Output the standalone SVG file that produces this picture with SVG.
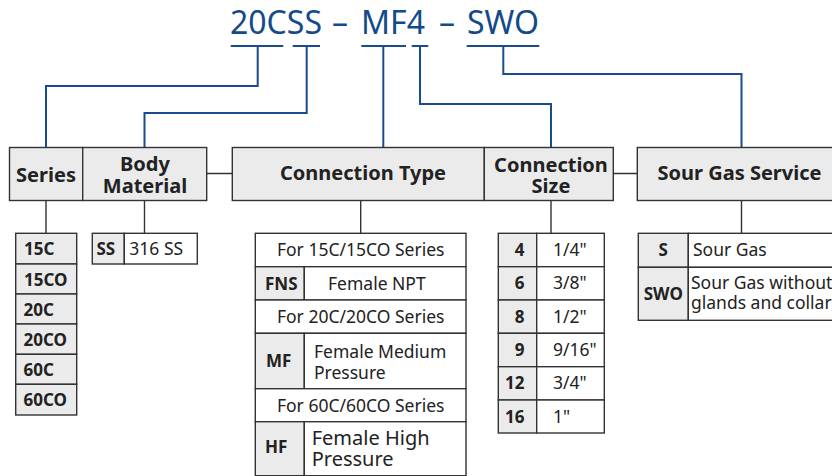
<svg xmlns="http://www.w3.org/2000/svg" width="832" height="476" viewBox="0 0 832 476">
<style>
.t{font-family:"Noto Sans","Open Sans","Liberation Sans",sans-serif;fill:#222}
.h{font-size:20px;font-weight:bold;text-anchor:middle}
.b{font-size:17px;font-weight:bold}
.r{font-size:17.5px}
.c{text-anchor:middle}
.g{fill:#ebebeb;stroke:#333;stroke-width:1.4}
.w{fill:#fff;stroke:#333;stroke-width:1.4}
.ln{fill:none;stroke:#333;stroke-width:1.4}
.bl{fill:none;stroke:#1a4b8c;stroke-width:2}
.title{font-family:"Noto Sans","Open Sans","Liberation Sans",sans-serif;font-size:32px;fill:#134a8a}
</style>
<g id="title">
<text class="title" y="34"><tspan x="230">20CSS</tspan><tspan x="332">–</tspan><tspan x="361">MF4</tspan><tspan x="439">–</tspan><tspan x="467">SWO</tspan></text>
</g>
<g id="connectors">
<path class="bl" d="M230.7 46H283.3M292.7 46H320M361.3 46H406M411.7 46H428.3M466.7 46H539.3"/>
<path class="bl" d="M257.7 46V86H46V147.5"/>
<path class="bl" d="M306.7 46V113H144.5V147.5"/>
<path class="bl" d="M383.3 46V147.5"/>
<path class="bl" d="M420 46V104H551V147.5"/>
<path class="bl" d="M503.3 46V74H741.5V147.5"/>
<path class="ln" d="M206.7 173.5H232.3M613.3 173.5H637.3"/>
<path class="ln" d="M46 200.5V233.3M144.5 200.5V233.3M360.7 200.5V233.3M551 200.5V233.3M741.5 200.5V233.3"/>
</g>
<g id="series">
<rect class="g" x="9.5" y="147.5" width="73.2" height="53"/>
<text class="t h" x="46" y="181.5">Series</text>
</g>
<g id="body-material">
<rect class="g" x="82.7" y="147.5" width="124" height="53"/>
<text class="t h" x="145" y="170.5">Body</text>
<text class="t h" x="145" y="193">Material</text>
</g>
<g id="connection-type">
<rect class="g" x="232.3" y="147.5" width="252" height="53"/>
<text class="t h" x="363" y="180">Connection Type</text>
</g>
<g id="connection-size">
<rect class="g" x="484.3" y="147.5" width="129" height="53"/>
<text class="t h" x="551" y="171.5">Connection</text>
<text class="t h" x="551" y="192.5">Size</text>
</g>
<g id="sour-gas-service">
<rect class="g" x="637.3" y="147.5" width="210" height="53"/>
<text class="t h" x="739.5" y="179.5">Sour Gas Service</text>
</g>
<g id="series-list">
<rect class="g" x="15.7" y="233.3" width="61" height="30.7"/>
<rect class="g" x="15.7" y="264" width="61" height="30"/>
<rect class="g" x="15.7" y="294" width="61" height="30"/>
<rect class="g" x="15.7" y="324" width="61" height="30.3"/>
<rect class="g" x="15.7" y="354.3" width="61" height="30"/>
<rect class="g" x="15.7" y="384.3" width="61" height="30.7"/>
<text class="t b" x="24" y="255">15C</text>
<text class="t b" x="24" y="285.5">15CO</text>
<text class="t b" x="23.5" y="315.5">20C</text>
<text class="t b" x="23.5" y="345.5">20CO</text>
<text class="t b" x="23.5" y="375.5">60C</text>
<text class="t b" x="23.5" y="405.5">60CO</text>
</g>
<g id="body-list">
<rect class="g" x="92.3" y="233.3" width="32" height="30.7"/>
<rect class="w" x="124.3" y="233.3" width="73" height="30.7"/>
<text class="t b" x="96.5" y="254.5">SS</text>
<text class="t r" x="129.3" y="254.5">316 SS</text>
</g>
<g id="connection-type-list">
<rect class="w" x="255.3" y="233.3" width="210.7" height="33.4"/>
<text class="t r c" x="360.7" y="256">For 15C/15CO Series</text>
<rect class="g" x="255.3" y="266.7" width="49" height="33.3"/>
<rect class="w" x="304.3" y="266.7" width="161.7" height="33.3"/>
<text class="t b" x="265" y="289.5">FNS</text>
<text class="t r" x="328" y="289.5">Female NPT</text>
<rect class="w" x="255.3" y="300" width="210.7" height="33.3"/>
<text class="t r c" x="360.7" y="323">For 20C/20CO Series</text>
<rect class="g" x="255.3" y="333.3" width="49" height="55.4"/>
<rect class="w" x="304.3" y="333.3" width="161.7" height="55.4"/>
<text class="t b" x="266" y="367">MF</text>
<text class="t r" x="314" y="357.5">Female Medium</text>
<text class="t r" x="314" y="378.5">Pressure</text>
<rect class="w" x="255.3" y="388.7" width="210.7" height="33"/>
<text class="t r c" x="360.7" y="411.5">For 60C/60CO Series</text>
<rect class="g" x="255.3" y="421.7" width="49" height="54"/>
<rect class="w" x="304.3" y="421.7" width="161.7" height="54"/>
<text class="t b" x="265" y="453">HF</text>
<text class="t" style="font-size:20px" x="311.7" y="445">Female High</text>
<text class="t" style="font-size:20px" x="311.7" y="466">Pressure</text>
</g>
<g id="connection-size-list">
<rect class="g" x="498.3" y="233.3" width="38.4" height="33.4"/>
<rect class="w" x="536.7" y="233.3" width="67.6" height="33.4"/>
<rect class="g" x="498.3" y="266.7" width="38.4" height="33.3"/>
<rect class="w" x="536.7" y="266.7" width="67.6" height="33.3"/>
<rect class="g" x="498.3" y="300" width="38.4" height="33.3"/>
<rect class="w" x="536.7" y="300" width="67.6" height="33.3"/>
<rect class="g" x="498.3" y="333.3" width="38.4" height="33.4"/>
<rect class="w" x="536.7" y="333.3" width="67.6" height="33.4"/>
<rect class="g" x="498.3" y="366.7" width="38.4" height="33.3"/>
<rect class="w" x="536.7" y="366.7" width="67.6" height="33.3"/>
<rect class="g" x="498.3" y="400" width="38.4" height="33"/>
<rect class="w" x="536.7" y="400" width="67.6" height="33"/>
<g class="t b" text-anchor="end">
<text x="524.5" y="256">4</text>
<text x="524.5" y="289.3">6</text>
<text x="524.5" y="322.6">8</text>
<text x="524.5" y="356">9</text>
<text x="524.5" y="389.3">12</text>
<text x="524.5" y="422.5">16</text>
</g>
<g class="t r">
<text x="553" y="256">1/4"</text>
<text x="553" y="289.3">3/8"</text>
<text x="553" y="322.6">1/2"</text>
<text x="553" y="356">9/16"</text>
<text x="553" y="389.3">3/4"</text>
<text x="553" y="422.5">1"</text>
</g>
</g>
<g id="sour-gas-list">
<rect class="g" x="638.3" y="233.3" width="50" height="34"/>
<rect class="w" x="688.3" y="233.3" width="160" height="34"/>
<rect class="g" x="638.3" y="267.3" width="50" height="53"/>
<rect class="w" x="688.3" y="267.3" width="160" height="53"/>
<text class="t b c" x="663.3" y="256">S</text>
<text class="t r" x="693" y="256">Sour Gas</text>
<text class="t b c" x="663.3" y="300">SWO</text>
<text class="t r" x="691" y="289">Sour Gas without</text>
<text class="t r" x="691" y="309">glands and collar</text>
</g>
</svg>
